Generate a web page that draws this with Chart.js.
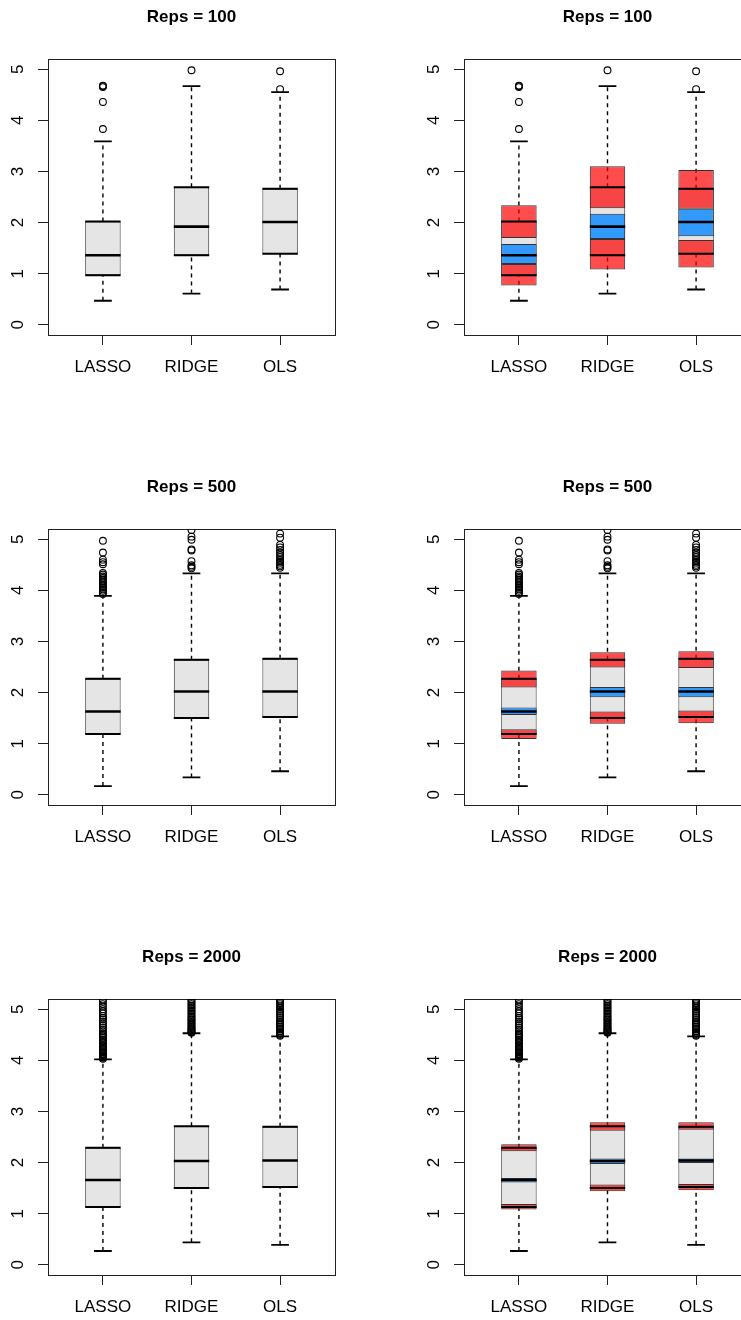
<!DOCTYPE html>
<html>
<head>
<meta charset="utf-8">
<script src="https://cdn.jsdelivr.net/npm/chart.js@4.4.1/dist/chart.umd.min.js"></script>
<style>
  body { margin: 0; background: #fff; overflow: hidden; }
  #wrap { position: relative; width: 741px; height: 1320px; overflow: hidden; background: #fff; }
  .panel { position: absolute; width: 416px; height: 470px; }
</style>
</head>
<body>
<div id="wrap"></div>
<script>
const categories = ["LASSO", "RIDGE", "OLS"];
const yTicks = [0, 1, 2, 3, 4, 5];

// Reps = 100
const lo100 = [0.47, 0.61, 0.69];
const q1_100 = [0.97, 1.36, 1.39];
const med100 = [1.36, 1.92, 2.01];
const q3_100 = [2.02, 2.69, 2.66];
const hi100 = [3.59, 4.67, 4.55];
const out100 = [[3.83, 4.36, 4.65, 4.67, 4.68], [4.98], [4.61, 4.96]];
const q3ci100 = [[1.70, 2.34], [2.28, 3.10], [2.27, 3.03]];
const medci100 = [[1.19, 1.58], [1.68, 2.17], [1.73, 2.27]];
const q1ci100 = [[0.77, 1.19], [1.08, 1.68], [1.12, 1.66]];

// Reps = 500
const lo500 = [0.17, 0.34, 0.46];
const q1_500 = [1.19, 1.50, 1.52];
const med500 = [1.63, 2.02, 2.02];
const q3_500 = [2.27, 2.64, 2.66];
const hi500 = [3.89, 4.33, 4.33];
const out500 = [
  [3.93, 3.96, 3.99, 4.02, 4.05, 4.08, 4.11, 4.14, 4.17, 4.21, 4.24, 4.27, 4.31, 4.34, 4.51, 4.55, 4.6, 4.74, 4.97],
  [4.43, 4.46, 4.49, 4.57, 4.78, 4.8, 4.99, 5.05, 5.18],
  [4.44, 4.47, 4.5, 4.54, 4.57, 4.6, 4.65, 4.69, 4.74, 4.79, 4.84, 4.89, 5.03, 5.11]
];
const q3ci500 = [[2.10, 2.43], [2.49, 2.79], [2.48, 2.81]];
const medci500 = [[1.56, 1.71], [1.91, 2.11], [1.91, 2.11]];
const q1ci500 = [[1.09, 1.28], [1.39, 1.63], [1.40, 1.65]];

// Reps = 2000
const lo2000 = [0.27, 0.44, 0.39];
const q1_2000 = [1.13, 1.50, 1.52];
const med2000 = [1.66, 2.03, 2.04];
const q3_2000 = [2.29, 2.71, 2.70];
const hi2000 = [4.02, 4.53, 4.47];
const out2000 = [
  [4.03, 4.05, 4.06, 4.08, 4.1, 4.12, 4.13, 4.15, 4.18, 4.2, 4.22, 4.25, 4.27, 4.3, 4.33, 4.36, 4.38, 4.41, 4.44, 4.47,
   4.5, 4.53, 4.57, 4.6, 4.64, 4.68, 4.72, 4.76, 4.8, 4.83, 4.87, 4.92, 4.96, 5.0, 5.05, 5.1, 5.15, 5.19, 5.3],
  [4.54, 4.55, 4.57, 4.59, 4.61, 4.63, 4.65, 4.67, 4.7, 4.72, 4.75, 4.78, 4.8, 4.83, 4.86, 4.89, 4.92, 4.95, 4.98,
   5.01, 5.04, 5.07, 5.1, 5.13, 5.16, 5.19, 5.25],
  [4.48, 4.5, 4.52, 4.54, 4.57, 4.6, 4.63, 4.66, 4.69, 4.72, 4.75, 4.79, 4.83, 4.87, 4.91, 4.95, 4.99, 5.03, 5.06,
   5.1, 5.13, 5.16, 5.19, 5.3]
];
const q3ci2000 = [[2.22, 2.36], [2.62, 2.79], [2.64, 2.79]];
const medci2000 = [[1.61, 1.70], [1.97, 2.08], [1.99, 2.08]];
const q1ci2000 = [[1.08, 1.19], [1.44, 1.57], [1.46, 1.58]];

const rows = [
  { title: "Reps = 100", lo: lo100, q1: q1_100, med: med100, q3: q3_100, hi: hi100, out: out100, q3ci: q3ci100, medci: medci100, q1ci: q1ci100 },
  { title: "Reps = 500", lo: lo500, q1: q1_500, med: med500, q3: q3_500, hi: hi500, out: out500, q3ci: q3ci500, medci: medci500, q1ci: q1ci500 },
  { title: "Reps = 2000", lo: lo2000, q1: q1_2000, med: med2000, q3: q3_2000, hi: hi2000, out: out2000, q3ci: q3ci2000, medci: medci2000, q1ci: q1ci2000 }
];

Chart.defaults.font.family = "'Liberation Sans', Arial, sans-serif";
Chart.defaults.color = "#000";

// horizontal segments centred on each category
function hLines(vals, half) {
  let pts = [];
  vals.forEach((v, i) => {
    pts.push({ x: i + 1 - half, y: v }, { x: i + 1 + half, y: v }, { x: i + 1, y: null });
  });
  return pts;
}
// vertical segments at each category
function vLines(from, to) {
  let pts = [];
  from.forEach((v, i) => {
    pts.push({ x: i + 1, y: v }, { x: i + 1, y: to[i] }, { x: i + 1, y: null });
  });
  return pts;
}
function floating(pairs) {
  return pairs.map((p, i) => ({ x: i + 1, y: p }));
}

function lineSet(data, width, order, dash) {
  return {
    type: "line", data: data, borderColor: "#000", borderWidth: width,
    borderDash: dash || [], pointRadius: 0, pointHitRadius: 0, spanGaps: false,
    order: order, xAxisID: "x", yAxisID: "y"
  };
}
function barSet(data, color, order) {
  return {
    type: "bar", data: data, backgroundColor: color, borderColor: "#333",
    borderWidth: 1, borderSkipped: false, grouped: false,
    categoryPercentage: 0.4, barPercentage: 1, order: order,
    xAxisID: "x", yAxisID: "y"
  };
}

function makeChart(canvas, r, colored) {
  let datasets = [];
  datasets.push(barSet(floating(r.q1.map((v, i) => [v, r.q3[i]])), "#e5e5e5", 10));
  datasets.push(lineSet(vLines(r.q3, r.hi).concat(vLines(r.lo, r.q1)), 1.4, 9, [4, 4]));
  if (colored) {
    datasets.push(barSet(floating(r.q3ci), "rgba(255,0,0,0.7)", 8));
    datasets.push(barSet(floating(r.q1ci), "rgba(255,0,0,0.7)", 8));
    datasets.push(barSet(floating(r.medci), "rgba(30,144,255,0.9)", 7));
  }
  datasets.push(lineSet(hLines(r.q1, 0.2).concat(hLines(r.q3, 0.2)), 2, 5));
  datasets.push(lineSet(hLines(r.med, 0.2), 2.6, 4));
  datasets.push(lineSet(hLines(r.lo, 0.1).concat(hLines(r.hi, 0.1)), 1.8, 4));

  let outPts = [];
  r.out.forEach((list, i) => list.forEach(v => outPts.push({ x: i + 1, y: v })));
  datasets.push({
    type: "scatter", data: outPts, pointStyle: "circle", pointRadius: 3.4,
    pointBackgroundColor: "rgba(0,0,0,0)", pointBorderColor: "#000",
    pointBorderWidth: 1.1, order: 1, xAxisID: "x", yAxisID: "y"
  });

  return new Chart(canvas, {
    type: "bar",
    data: { datasets: datasets },
    options: {
      responsive: false,
      devicePixelRatio: 1,
      animation: false,
      events: [],
      layout: { padding: { left: 0, right: 81, top: 0, bottom: 0 } },
      plugins: {
        legend: { display: false },
        tooltip: { enabled: false },
        title: {
          display: true, text: r.title, fullSize: false, color: "#000",
          font: { size: 17, weight: "bold" },
          padding: { top: 6.8, bottom: 31.8 }
        }
      },
      scales: {
        x: {
          type: "linear", axis: "x", position: "bottom", min: 0.38, max: 3.62, offset: false,
          afterBuildTicks: s => { s.ticks = categories.map((c, i) => ({ value: i + 1 })); },
          afterFit: s => { s.height = 135; },
          ticks: {
            autoSkip: false, maxRotation: 0, minRotation: 0, padding: 12, color: "#000",
            font: { size: 17 }, callback: v => categories[Math.round(v) - 1]
          },
          grid: { drawOnChartArea: false, tickLength: 10, color: "#222", offset: false },
          border: { display: true, color: "#222", width: 1 }
        },
        y: {
          type: "linear", axis: "y", position: "left", min: -0.2, max: 5.2,
          afterBuildTicks: s => { s.ticks = yTicks.map(v => ({ value: v })); },
          afterFit: s => { s.width = 48; },
          ticks: {
            minRotation: 90, maxRotation: 90, crossAlign: "center", padding: 15,
            color: "#000", font: { size: 17 }, callback: v => String(v)
          },
          grid: { drawOnChartArea: false, tickLength: 10, color: "#222" },
          border: { display: true, color: "#222", width: 1 }
        },
        xTop: {
          type: "linear", axis: "x", position: "top", min: 0, max: 1,
          afterFit: s => { s.height = 0; },
          ticks: { display: false },
          grid: { drawOnChartArea: false, drawTicks: false },
          border: { display: true, color: "#222", width: 1 }
        },
        yRight: {
          type: "linear", axis: "y", position: "right", min: 0, max: 1,
          afterFit: s => { s.width = 0; },
          ticks: { display: false },
          grid: { drawOnChartArea: false, drawTicks: false },
          border: { display: true, color: "#222", width: 1 }
        }
      }
    }
  });
}

const wrap = document.getElementById("wrap");
rows.forEach((r, row) => {
  [false, true].forEach((colored, col) => {
    let div = document.createElement("div");
    div.className = "panel";
    div.style.left = (col * 416) + "px";
    div.style.top = (row * 470) + "px";
    let canvas = document.createElement("canvas");
    canvas.width = 416;
    canvas.height = 470;
    div.appendChild(canvas);
    wrap.appendChild(div);
    makeChart(canvas, r, colored);
  });
});
</script>
</body>
</html>
